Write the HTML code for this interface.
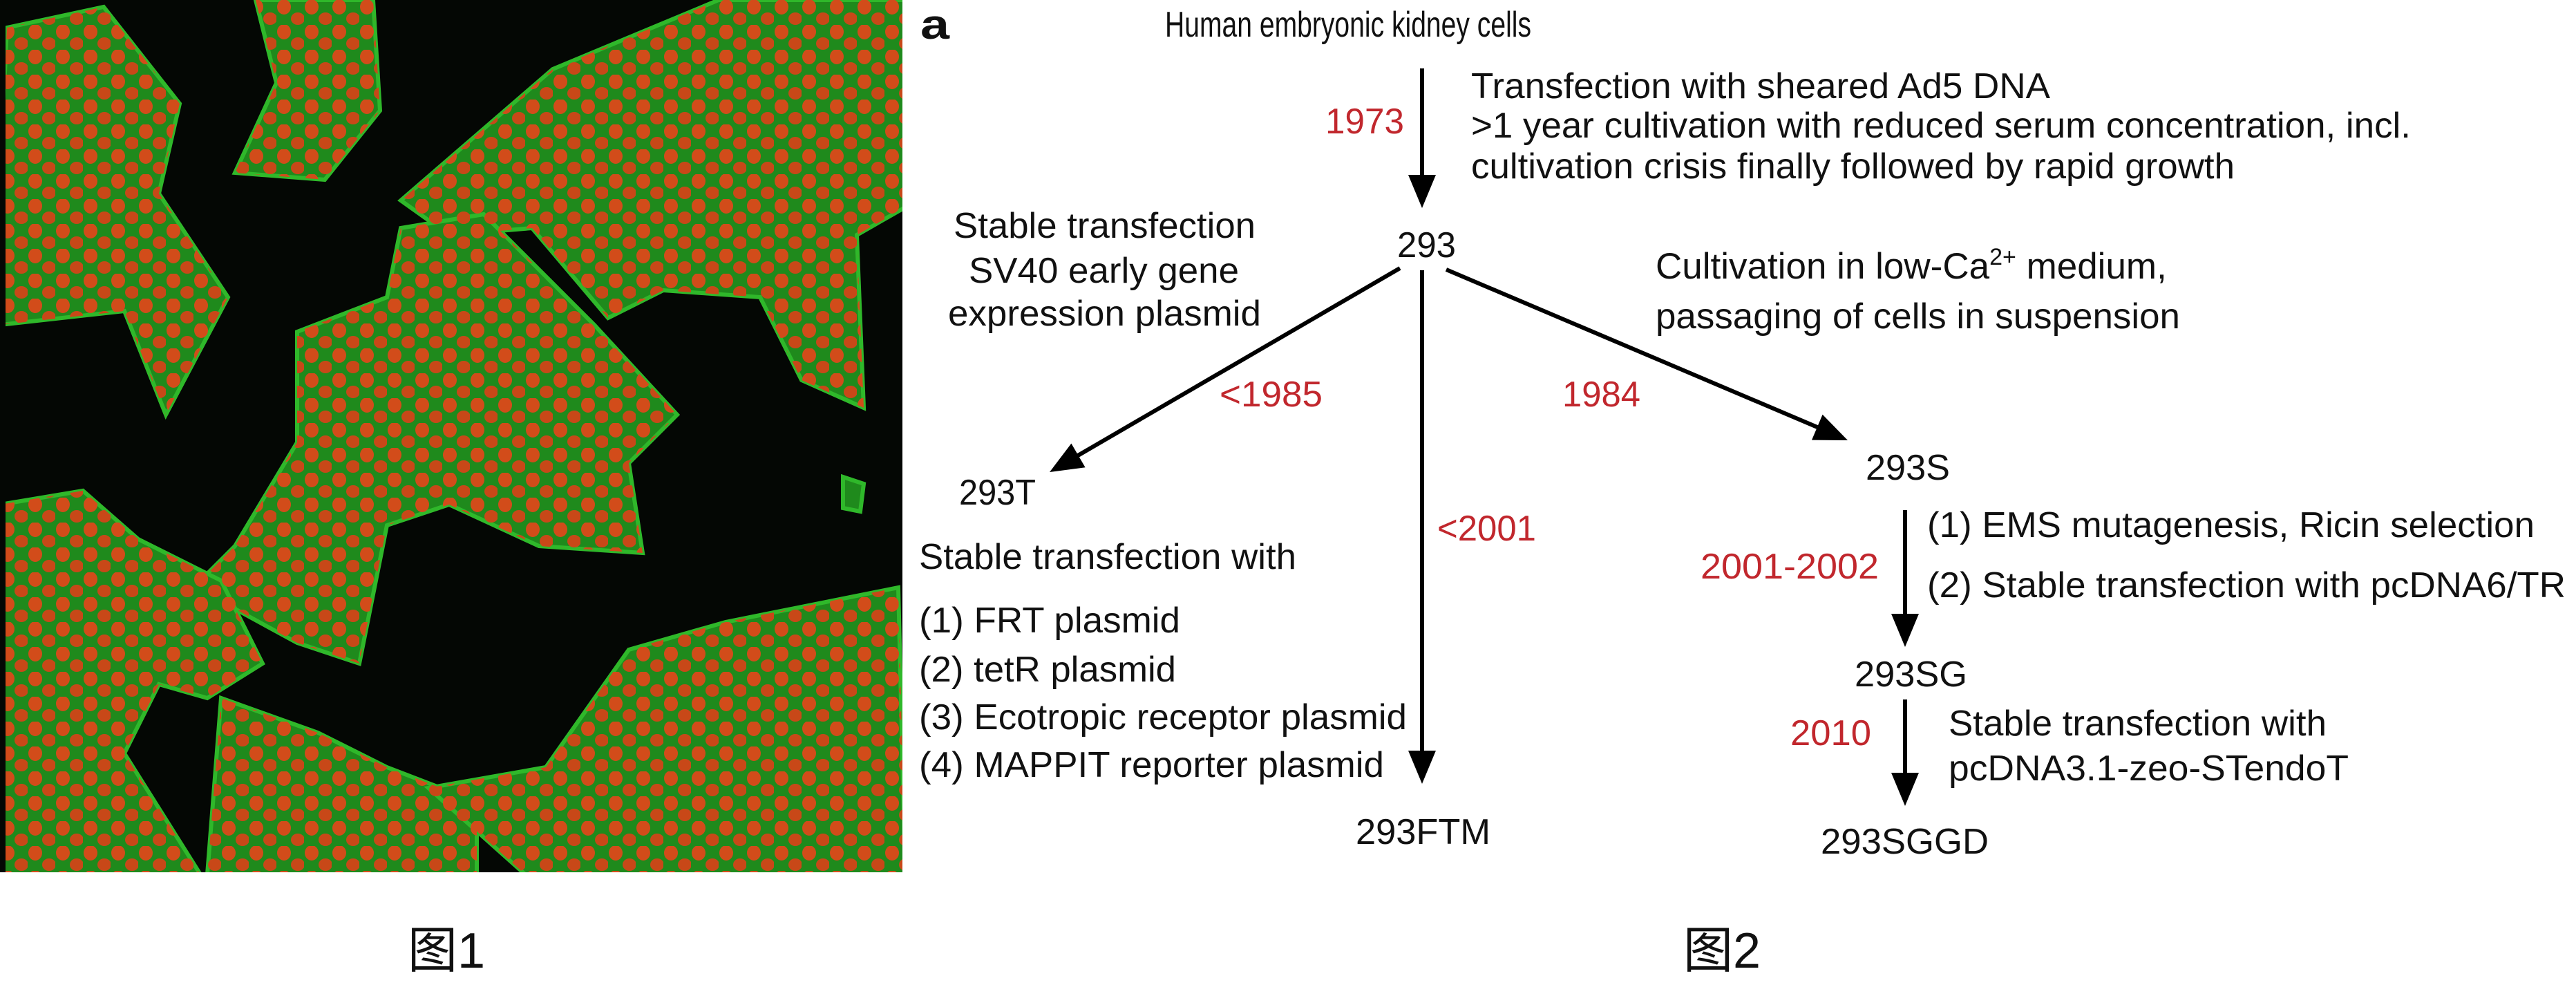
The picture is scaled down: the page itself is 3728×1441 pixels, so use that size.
<!DOCTYPE html>
<html><head><meta charset="utf-8"><style>
html,body{margin:0;padding:0;background:#fff;}
svg{display:block;}
text{font-family:"Liberation Sans",Arial,sans-serif;fill:#111;}
.r{fill:#c1272d;}
</style></head><body>
<svg width="3728" height="1441" viewBox="0 0 3728 1441" xmlns="http://www.w3.org/2000/svg">
<defs>
<pattern id="nuc" width="40" height="36" patternUnits="userSpaceOnUse">
<ellipse cx="11" cy="10" rx="10" ry="11" fill="#d24c1a"/>
<ellipse cx="31" cy="27" rx="10" ry="9" fill="#c84818"/>
</pattern>
<clipPath id="ph"><rect x="8" y="0" width="1298" height="1262"/></clipPath>
</defs>
<rect x="0" y="0" width="1306" height="1262" fill="#040704"/>
<g clip-path="url(#ph)">
<g id="cl" fill="#1f8a1c" stroke="#2fb82a" stroke-width="6">
<polygon points="10,40 150,10 260,150 230,280 330,430 240,600 180,450 0,470 0,260"/>
<polygon points="370,0 540,0 550,160 470,260 340,250 400,120"/>
<polygon points="800,100 1040,0 1310,0 1310,300 1240,340 1250,590 1160,550 1100,430 960,420 880,460 770,330 650,340 580,290"/>
<polygon points="580,330 700,310 860,470 980,600 910,670 930,800 780,790 650,730 560,760 520,960 430,930 320,870 250,880 340,790 430,640 430,480 560,430"/>
<polygon points="0,730 120,710 200,780 320,840 380,960 300,1010 230,990 180,1090 290,1265 0,1265"/>
<polygon points="320,1010 460,1060 560,1110 690,1160 690,1265 300,1265"/>
<polygon points="790,1110 910,940 1050,900 1300,850 1310,1265 760,1265 620,1140"/>
<polygon points="1220,690 1250,700 1245,740 1220,735"/>
</g>
<g fill="url(#nuc)">
<polygon points="10,40 150,10 260,150 230,280 330,430 240,600 180,450 0,470 0,260"/>
<polygon points="370,0 540,0 550,160 470,260 340,250 400,120"/>
<polygon points="800,100 1040,0 1310,0 1310,300 1240,340 1250,590 1160,550 1100,430 960,420 880,460 770,330 650,340 580,290"/>
<polygon points="580,330 700,310 860,470 980,600 910,670 930,800 780,790 650,730 560,760 520,960 430,930 320,870 250,880 340,790 430,640 430,480 560,430"/>
<polygon points="0,730 120,710 200,780 320,840 380,960 300,1010 230,990 180,1090 290,1265 0,1265"/>
<polygon points="320,1010 460,1060 560,1110 690,1160 690,1265 300,1265"/>
<polygon points="790,1110 910,940 1050,900 1300,850 1310,1265 760,1265 620,1140"/>
</g>
</g>

<text x="1332" y="56" font-size="60" font-weight="bold" textLength="42" lengthAdjust="spacingAndGlyphs">a</text>
<text x="1686" y="53" font-size="52" textLength="530" lengthAdjust="spacingAndGlyphs">Human embryonic kidney cells</text>

<line x1="2058" y1="99" x2="2058" y2="256" stroke="#000" stroke-width="6"/>
<polygon points="2038,253 2078,253 2058,301" fill="#000"/>
<text class="r" x="1918" y="193" font-size="52" textLength="114" lengthAdjust="spacingAndGlyphs">1973</text>
<text x="2129" y="142" font-size="52" textLength="838" lengthAdjust="spacingAndGlyphs">Transfection with sheared Ad5 DNA</text>
<text x="2129" y="199" font-size="52" textLength="1360" lengthAdjust="spacingAndGlyphs">&gt;1 year cultivation with reduced serum concentration, incl.</text>
<text x="2129" y="258" font-size="52" textLength="1105" lengthAdjust="spacingAndGlyphs">cultivation crisis finally followed by rapid growth</text>

<text x="2022" y="372" font-size="52" textLength="85" lengthAdjust="spacingAndGlyphs">293</text>
<text x="1380" y="344" font-size="52" textLength="437" lengthAdjust="spacingAndGlyphs">Stable transfection</text>
<text x="1402" y="409" font-size="52" textLength="391" lengthAdjust="spacingAndGlyphs">SV40 early gene</text>
<text x="1372" y="471" font-size="52" textLength="453" lengthAdjust="spacingAndGlyphs">expression plasmid</text>

<text x="2396" y="403" font-size="53">Cultivation in low-Ca<tspan font-size="34" dy="-20">2+</tspan><tspan dy="20"> medium,</tspan></text>
<text x="2396" y="475" font-size="52" textLength="759" lengthAdjust="spacingAndGlyphs">passaging of cells in suspension</text>

<line x1="2026" y1="388" x2="1560" y2="659" stroke="#000" stroke-width="6"/>
<polygon points="1519,683 1570.6,676.2 1550.4,641.6" fill="#000"/>
<line x1="2093" y1="390" x2="2630" y2="618" stroke="#000" stroke-width="6"/>
<polygon points="2674,637 2622,636.6 2637.6,599.8" fill="#000"/>
<line x1="2058" y1="391" x2="2058" y2="1090" stroke="#000" stroke-width="6"/>
<polygon points="2038,1086 2078,1086 2058,1134" fill="#000"/>

<text class="r" x="1765" y="588" font-size="52" textLength="149" lengthAdjust="spacingAndGlyphs">&lt;1985</text>
<text class="r" x="2261" y="588" font-size="52" textLength="113" lengthAdjust="spacingAndGlyphs">1984</text>
<text x="1388" y="730" font-size="52" textLength="111" lengthAdjust="spacingAndGlyphs">293T</text>
<text x="2700" y="694" font-size="52" textLength="122" lengthAdjust="spacingAndGlyphs">293S</text>

<text class="r" x="2080" y="782" font-size="52" textLength="143" lengthAdjust="spacingAndGlyphs">&lt;2001</text>
<text x="1330" y="823" font-size="52" textLength="546" lengthAdjust="spacingAndGlyphs">Stable transfection with</text>
<text x="1330" y="915" font-size="52" textLength="378" lengthAdjust="spacingAndGlyphs">(1) FRT plasmid</text>
<text x="1330" y="986" font-size="52" textLength="372" lengthAdjust="spacingAndGlyphs">(2) tetR plasmid</text>
<text x="1330" y="1055" font-size="52" textLength="706" lengthAdjust="spacingAndGlyphs">(3) Ecotropic receptor plasmid</text>
<text x="1330" y="1124" font-size="52" textLength="673" lengthAdjust="spacingAndGlyphs">(4) MAPPIT reporter plasmid</text>
<text x="1962" y="1221" font-size="52" textLength="195" lengthAdjust="spacingAndGlyphs">293FTM</text>

<line x1="2757" y1="738" x2="2757" y2="892" stroke="#000" stroke-width="6"/>
<polygon points="2737,888 2777,888 2757,936" fill="#000"/>
<text class="r" x="2461" y="837" font-size="52" textLength="258" lengthAdjust="spacingAndGlyphs">2001-2002</text>
<text x="2789" y="777" font-size="52" textLength="879" lengthAdjust="spacingAndGlyphs">(1) EMS mutagenesis, Ricin selection</text>
<text x="2789" y="864" font-size="52" textLength="924" lengthAdjust="spacingAndGlyphs">(2) Stable transfection with pcDNA6/TR</text>
<text x="2684" y="993" font-size="52" textLength="163" lengthAdjust="spacingAndGlyphs">293SG</text>

<line x1="2757" y1="1012" x2="2757" y2="1122" stroke="#000" stroke-width="6"/>
<polygon points="2737,1118 2777,1118 2757,1166" fill="#000"/>
<text class="r" x="2591" y="1078" font-size="52" textLength="117" lengthAdjust="spacingAndGlyphs">2010</text>
<text x="2820" y="1064" font-size="52" textLength="547" lengthAdjust="spacingAndGlyphs">Stable transfection with</text>
<text x="2820" y="1129" font-size="52" textLength="579" lengthAdjust="spacingAndGlyphs">pcDNA3.1-zeo-STendoT</text>
<text x="2635" y="1235" font-size="52" textLength="243" lengthAdjust="spacingAndGlyphs">293SGGD</text>

<text x="590" y="1400" font-size="72" style="font-family:'Liberation Sans','Noto Sans CJK SC',sans-serif">图1</text>
<text x="2436" y="1400" font-size="72" style="font-family:'Liberation Sans','Noto Sans CJK SC',sans-serif">图2</text>
</svg>
</body></html>
